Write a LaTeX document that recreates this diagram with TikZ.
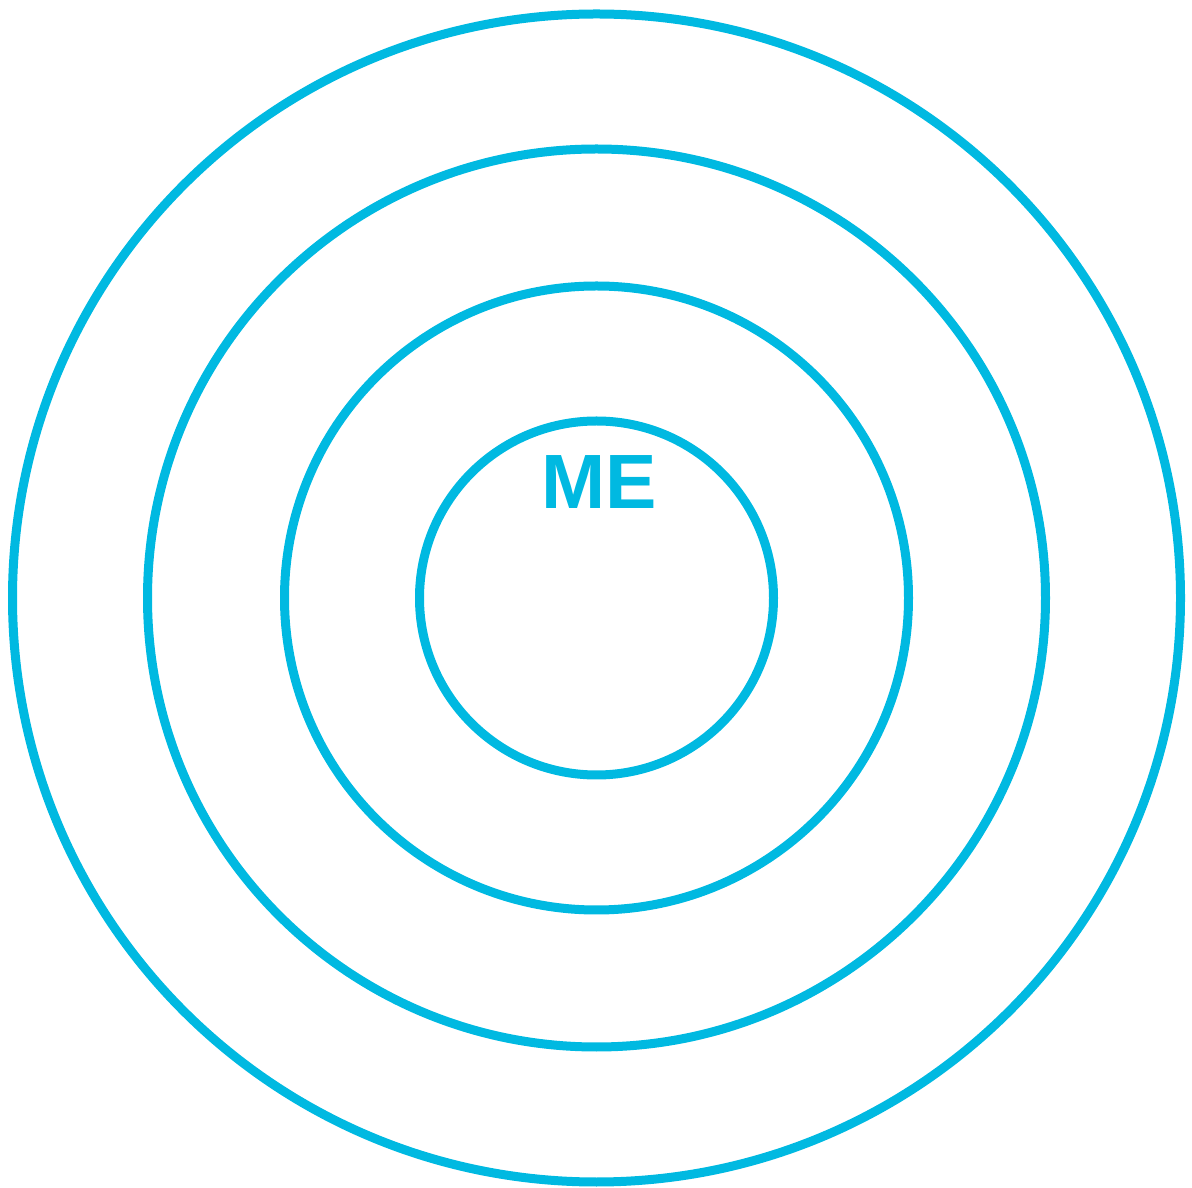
\documentclass[tikz,border=0pt]{standalone}
\usepackage{fontspec}
\setmainfont{Liberation Sans}
\usetikzlibrary{positioning}
\definecolor{RingBlue}{RGB}{0,185,225}

\begin{document}
\begin{tikzpicture}[x=1pt,y=1pt]
		\useasboundingbox (0,0) rectangle (1192,1187);
		\coordinate (O) at (596.5,589);
		
		% 同心圆
		\foreach \r in {177,312,449,584}
			\draw[RingBlue,line width=9pt] (O) circle (\r);
		
		% 标注
		\node[RingBlue,anchor=base,inner sep=0pt,font=\fontsize{77}{77}\selectfont\bfseries] (me) at (599,678) {ME};
	\end{tikzpicture}
\end{document}
